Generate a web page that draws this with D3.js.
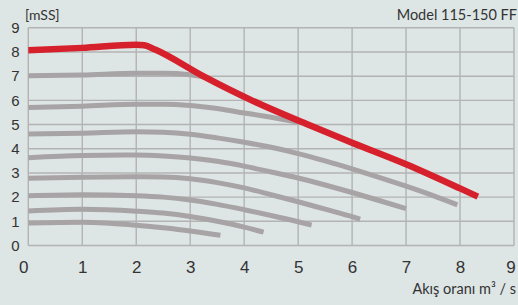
<!DOCTYPE html>
<meta charset="utf-8">
<style>
body { margin: 0; background: #dde5e5; }
svg { display: block; font-family: "Lato", "Open Sans", sans-serif; font-weight: 400; }
.grid line { stroke: #b3b3b3; stroke-width: 1.4px; }
.axis text { fill: #333; }
.curve { fill: none; stroke: #a8a4a5; stroke-width: 5px; }
.red { fill: none; stroke: #d6202b; stroke-width: 6.5px; stroke-linejoin: round; }
</style>
<body>
<script src="https://d3js.org/d3.v7.min.js"></script>
<script>

var xTicks = [0, 1, 2, 3, 4, 5, 6, 7, 8, 9],
    yTicks = [0, 1, 2, 3, 4, 5, 6, 7, 8, 9];

// main (red) curve
var redCurve = [[0, 8.07], [1, 8.17], [2, 8.3], [2.15, 8.28], [2.35, 8.1], [3.24, 7.0],
  [4.14, 6.0], [5.18, 5.0], [6, 4.25], [7, 3.36], [8, 2.36], [8.33, 2.02]];

// grey curves, top to bottom
var curveA = [[0, 7.02], [1, 7.05], [2, 7.12], [2.5, 7.12], [3, 7.06], [3.3, 6.95]];
var curveB = [[0, 5.71], [1, 5.76], [2, 5.84], [2.5, 5.84], [3, 5.79], [3.5, 5.66], [4, 5.48], [4.5, 5.3], [5, 5.1]];
var curveC = [[0, 4.61], [1, 4.64], [2, 4.7], [2.5, 4.68], [3, 4.6], [3.5, 4.45], [4, 4.27], [4.5, 4.06],
  [5, 3.8], [5.5, 3.5], [6, 3.17], [6.5, 2.82], [7, 2.45], [7.5, 2.06], [7.95, 1.68]];
var curveD = [[0, 3.63], [1, 3.72], [2, 3.74], [2.5, 3.7], [3, 3.62], [3.5, 3.48], [4, 3.28], [4.5, 3.04],
  [5, 2.79], [5.5, 2.5], [6, 2.19], [6.5, 1.86], [7, 1.52]];
var curveE = [[0, 2.78], [1, 2.82], [2, 2.84], [2.5, 2.83], [3, 2.76], [3.5, 2.6], [4, 2.38], [4.5, 2.1],
  [5, 1.81], [5.5, 1.5], [6, 1.19], [6.15, 1.09]];
var curveF = [[0, 2.06], [1, 2.1], [2, 2.06], [2.5, 2.0], [3, 1.88], [3.5, 1.7], [4, 1.48], [4.5, 1.24], [5, 0.98], [5.25, 0.84]];
var curveG = [[0, 1.43], [1, 1.5], [2, 1.42], [2.5, 1.34], [3, 1.2], [3.5, 1.0], [4, 0.76], [4.36, 0.55]];
var curveH = [[0, 0.93], [1, 0.96], [2, 0.84], [2.5, 0.73], [3, 0.6], [3.56, 0.42]];

var greyCurves = [curveA, curveB, curveC, curveD, curveE, curveF, curveG, curveH];

var width = 518, height = 305;

var x = d3.scaleLinear().domain([0, 9]).range([28.3, 514]);
var y = d3.scaleLinear().domain([0, 9]).range([245.5, 27.8]);

var svg = d3.select("body").append("svg")
    .attr("width", width)
    .attr("height", height);

// grid
var grid = svg.append("g").attr("class", "grid");
grid.selectAll(".v").data(xTicks).enter().append("line")
    .attr("class", "v")
    .attr("x1", function(d) { return x(d); })
    .attr("x2", function(d) { return x(d); })
    .attr("y1", y(0)).attr("y2", y(9));
grid.selectAll(".h").data(yTicks).enter().append("line")
    .attr("class", "h")
    .attr("y1", function(d) { return y(d); })
    .attr("y2", function(d) { return y(d); })
    .attr("x1", x(0)).attr("x2", x(9));

var line = d3.line()
    .x(function(d) { return x(d[0]); })
    .y(function(d) { return y(d[1]); })
    .curve(d3.curveMonotoneX);

svg.selectAll(".curve").data(greyCurves).enter().append("path")
    .attr("class", "curve")
    .attr("d", line);

svg.append("path")
    .datum(redCurve)
    .attr("class", "red")
    .attr("d", line);

// axes (labels only)
var xAxis = svg.append("g")
    .attr("class", "axis")
    .attr("transform", "translate(0," + y(0) + ")")
    .call(d3.axisBottom(x).tickValues(xTicks).tickSize(0).tickPadding(15));
xAxis.select(".domain").remove();
xAxis.selectAll("text")
    .style("font-size", "17px")
    .attr("dx", function(d) { return d === 0 ? -5 : d === 9 ? -3.5 : 0; });

var yAxis = svg.append("g")
    .attr("class", "axis")
    .attr("transform", "translate(15.5,0)")
    .call(d3.axisLeft(y).tickValues(yTicks).tickSize(0).tickPadding(0));
yAxis.select(".domain").remove();
yAxis.selectAll("text")
    .style("font-size", "15px")
    .attr("text-anchor", "middle");

svg.append("text")
    .attr("x", 25).attr("y", 20)
    .attr("fill", "#333")
    .style("font-size", "14px")
    .text("[mSS]");

svg.append("text")
    .attr("x", 517).attr("y", 20)
    .attr("text-anchor", "end")
    .attr("fill", "#333")
    .style("font-size", "14.5px")
    .text("Model 115-150 FF");

svg.append("text")
    .attr("x", 516).attr("y", 294)
    .attr("text-anchor", "end")
    .attr("fill", "#333")
    .style("font-size", "14.5px")
    .text("Akış oranı m³ / s");

</script>
